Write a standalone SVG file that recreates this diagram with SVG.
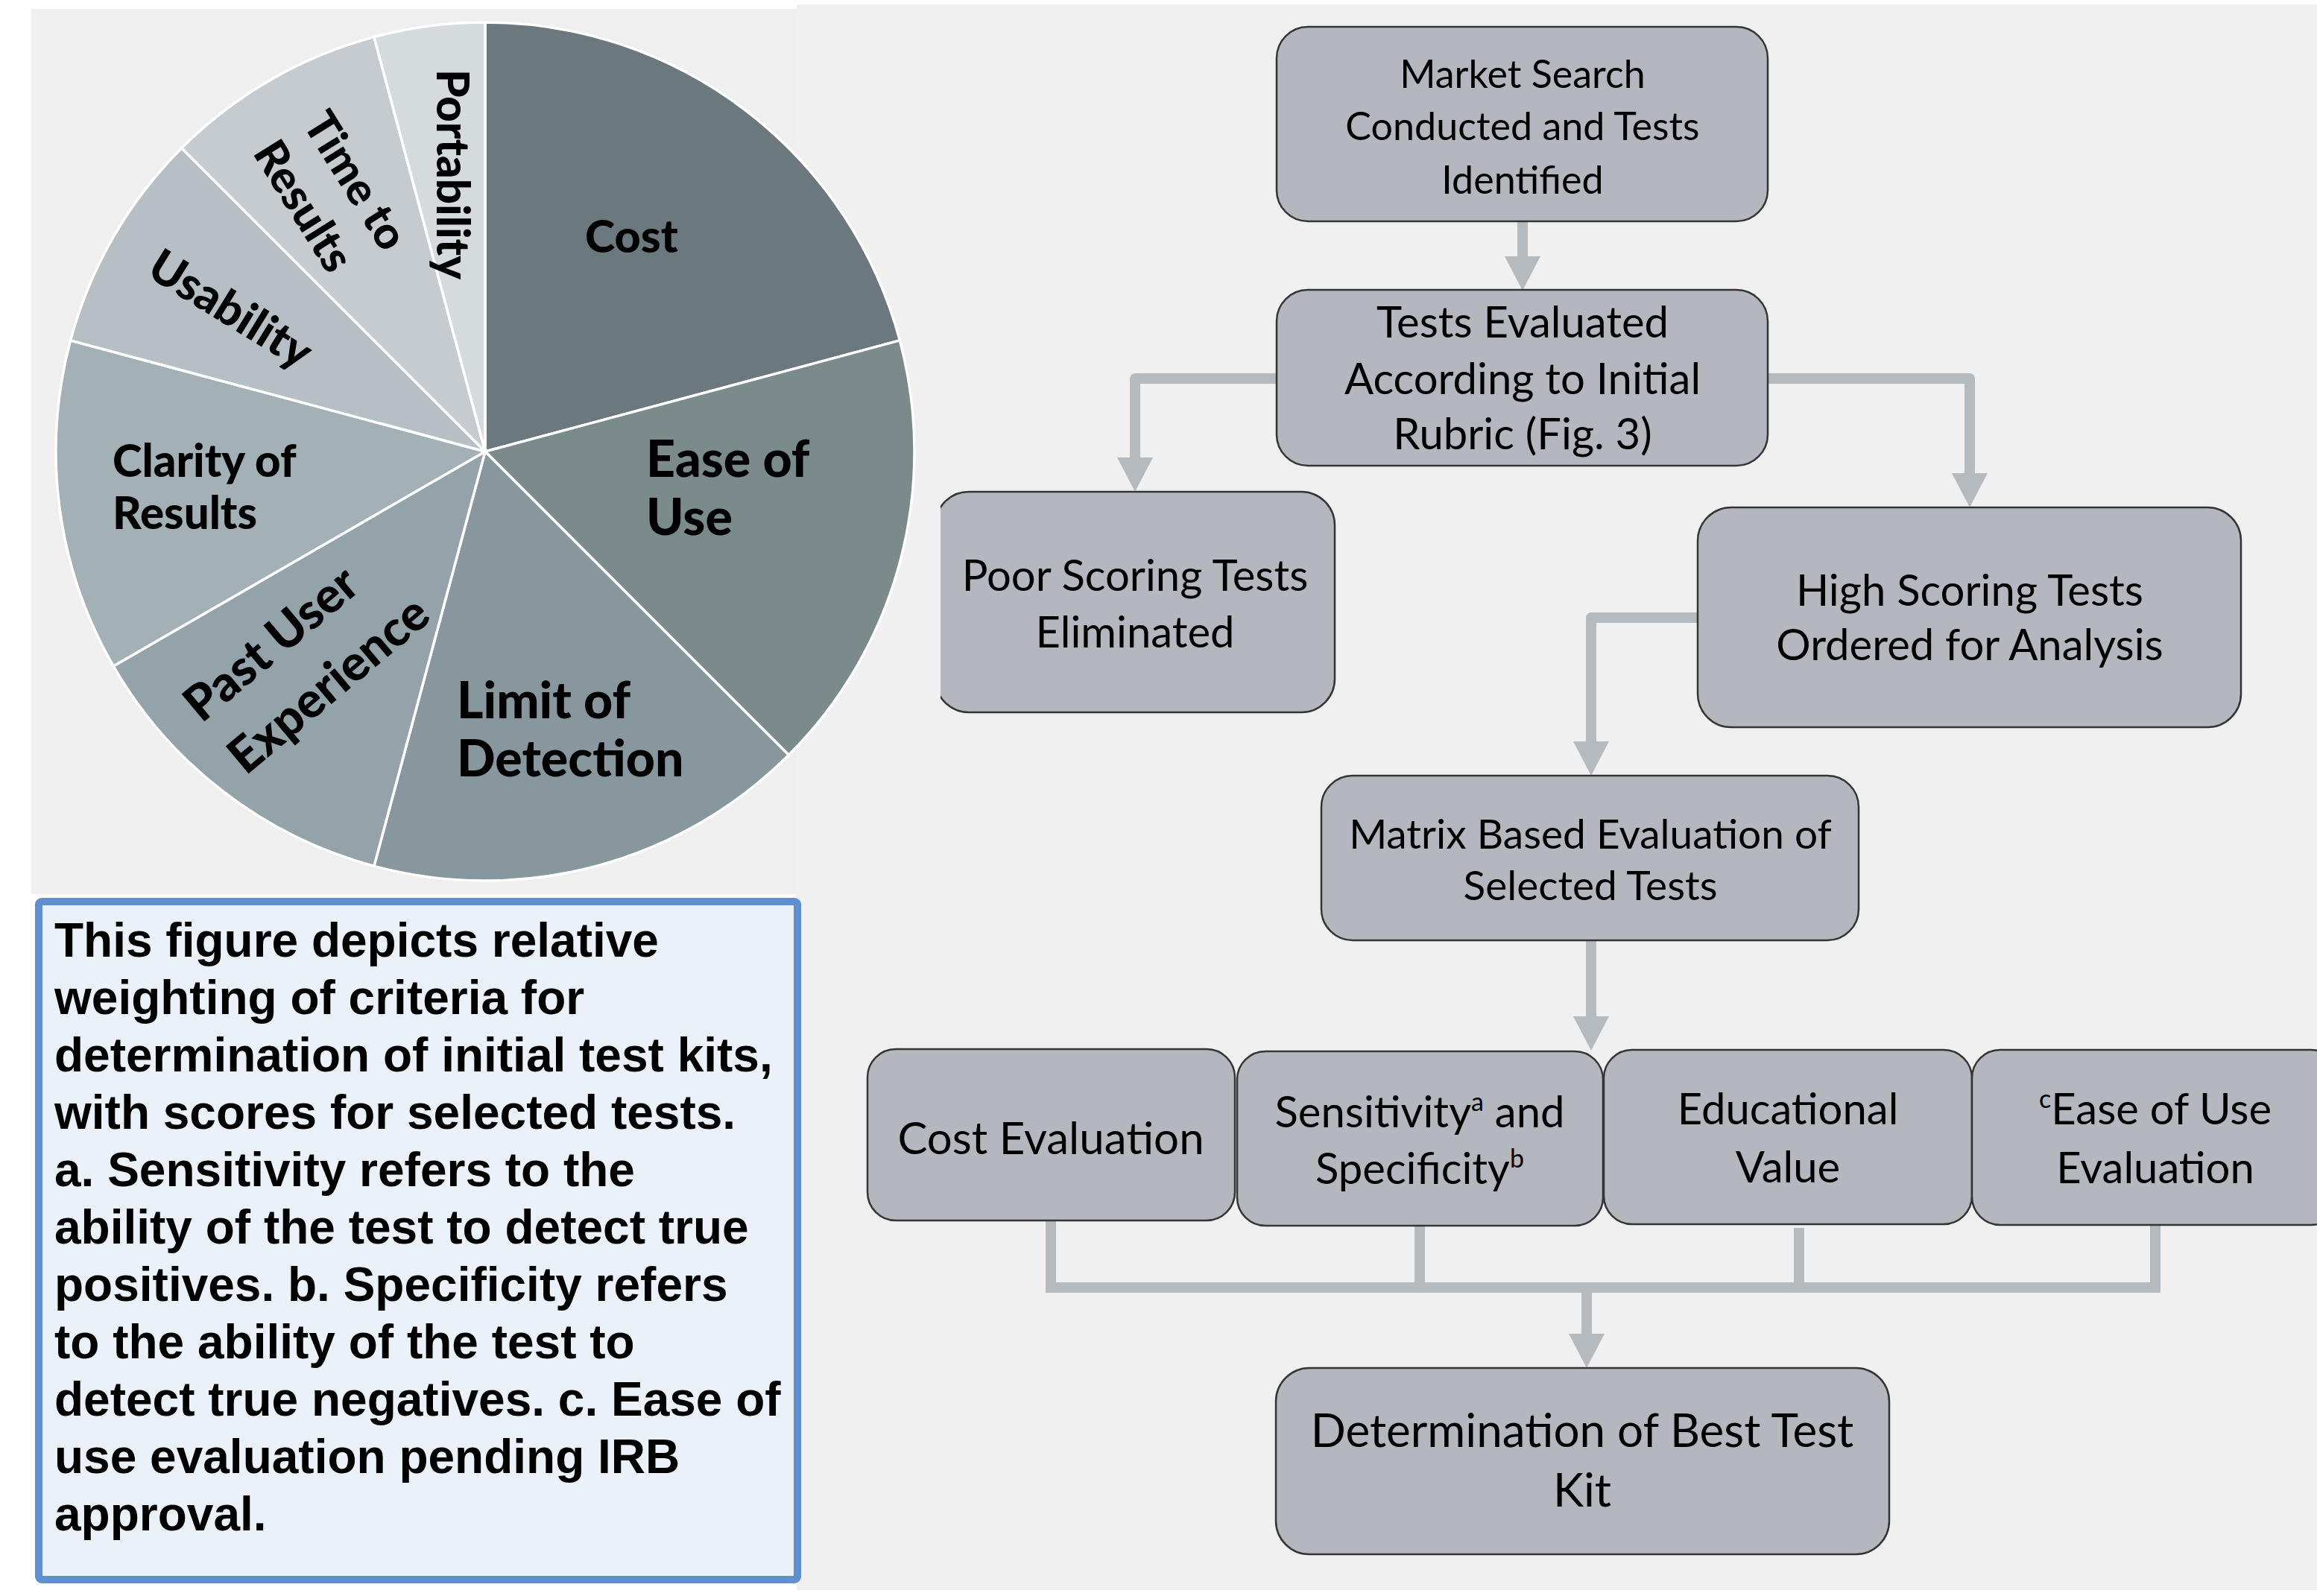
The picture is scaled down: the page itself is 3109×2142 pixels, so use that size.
<svg xmlns="http://www.w3.org/2000/svg" width="3109" height="2142" viewBox="0 0 3109 2142">
<style>
.slice{stroke:#ffffff;stroke-width:3.5}
.pl{font-family:Lato,"Open Sans","DejaVu Sans",sans-serif;font-weight:900;fill:#000}
.box{fill:#b4b8be;stroke:#353535;stroke-width:2.5}
.ft{font-family:Lato,"Open Sans","DejaVu Sans",sans-serif;font-size:58px;fill:#000;text-anchor:middle}
.conn{fill:none;stroke:#b5babf;stroke-width:14;stroke-linejoin:round}
.cap{font-family:"Liberation Sans",Arial,sans-serif;font-weight:bold;font-size:64px;fill:#000}
.sup{font-size:34px}
</style>
<defs>
<marker id="ah" markerUnits="userSpaceOnUse" viewBox="0 0 46 48" markerWidth="46" markerHeight="48" refX="0" refY="24" orient="auto">
<path d="M0,0 L46,24 L0,48 Z" fill="#b5babf"/>
</marker>
<clipPath id="clipPoor"><rect x="1262" y="600" width="600" height="400"/></clipPath>
</defs>
<rect x="0" y="0" width="3109" height="2142" fill="#ffffff"/>
<rect x="42" y="12" width="1027" height="1188" fill="#efefef"/>
<rect x="1069" y="6" width="2040" height="2128" fill="#f0f0f0"/>

<g id="pie">
<g id="slice-cost"><path class="slice" fill="#6b787d" d="M651,606 L651,30 A576,576 0 0 1 1207.4,456.9 Z"/><text class="pl" x="785" y="339" font-size="61">Cost</text></g>
<g id="slice-ease"><path class="slice" fill="#7b8b8c" d="M651,606 L1207.4,456.9 A576,576 0 0 1 1058.3,1013.3 Z"/><text class="pl" font-size="68"><tspan x="867" y="640">Ease of</tspan><tspan x="867" y="718">Use</tspan></text></g>
<g id="slice-limit"><path class="slice" fill="#88969e" d="M651,606 L1058.3,1013.3 A576,576 0 0 1 501.9,1162.4 Z"/><text class="pl" font-size="68"><tspan x="613" y="964">Limit of</tspan><tspan x="613" y="1042">Detection</tspan></text></g>
<g id="slice-past"><path class="slice" fill="#94a3a9" d="M651,606 L501.9,1162.4 A576,576 0 0 1 152.2,894 Z"/><text class="pl" font-size="66" text-anchor="middle" transform="translate(363,863) rotate(-40)" dy="0.36em">Past User</text><text class="pl" font-size="66" text-anchor="middle" transform="translate(440,918) rotate(-40)" dy="0.36em">Experience</text></g>
<g id="slice-clarity"><path class="slice" fill="#a3b0b6" d="M651,606 L152.2,894 A576,576 0 0 1 94.6,456.9 Z"/><text class="pl" font-size="60"><tspan x="151" y="640">Clarity of</tspan><tspan x="151" y="710">Results</tspan></text></g>
<g id="slice-usability"><path class="slice" fill="#b6c0c4" d="M651,606 L94.6,456.9 A576,576 0 0 1 243.7,198.7 Z"/><text class="pl" font-size="62" text-anchor="middle" transform="translate(310,414) rotate(31.6)" dy="0.36em">Usability</text></g>
<g id="slice-time"><path class="slice" fill="#c5cbcf" d="M651,606 L243.7,198.7 A576,576 0 0 1 501.9,49.6 Z"/><text class="pl" font-size="60" text-anchor="middle" transform="translate(478,242) rotate(58)" dy="0.36em">Time to</text><text class="pl" font-size="60" text-anchor="middle" transform="translate(408,276) rotate(58)" dy="0.36em">Results</text></g>
<g id="slice-portability"><path class="slice" fill="#d5dadd" d="M651,606 L501.9,49.6 A576,576 0 0 1 651,30 Z"/><text class="pl" font-size="60" text-anchor="middle" transform="translate(608,234) rotate(90)" dy="0.36em">Portability</text></g>
</g>

<g id="caption">
<rect x="52" y="1210" width="1018" height="910" rx="4" fill="#eaf1f9" stroke="#5f8fcf" stroke-width="10"/>
<text class="cap">
<tspan x="73" y="1284">This figure depicts relative</tspan>
<tspan x="73" y="1361">weighting of criteria for</tspan>
<tspan x="73" y="1438">determination of initial test kits,</tspan>
<tspan x="73" y="1515">with scores for selected tests.</tspan>
<tspan x="73" y="1592">a. Sensitivity refers to the</tspan>
<tspan x="73" y="1669">ability of the test to detect true</tspan>
<tspan x="73" y="1746">positives. b. Specificity refers</tspan>
<tspan x="73" y="1823">to the ability of the test to</tspan>
<tspan x="73" y="1900">detect true negatives. c. Ease of</tspan>
<tspan x="73" y="1977">use evaluation pending IRB</tspan>
<tspan x="73" y="2054">approval.</tspan>
</text>
</g>

<g id="connectors">
<path class="conn" d="M2043,297 V344" marker-end="url(#ah)"/>
<path class="conn" d="M1712,508 H1523 V614" marker-end="url(#ah)"/>
<path class="conn" d="M2372,508 H2643 V635" marker-end="url(#ah)"/>
<path class="conn" d="M2278,829 H2135 V995" marker-end="url(#ah)"/>
<path class="conn" d="M2135,1262 V1364" marker-end="url(#ah)"/>
<path class="conn" style="stroke-linejoin:miter" d="M1410,1638 V1728 H2892 V1644"/>
<path class="conn" d="M1905,1645 V1728"/>
<path class="conn" d="M2414,1648 V1728"/>
<path class="conn" d="M2129,1728 V1790" marker-end="url(#ah)"/>
</g>

<g id="node-market"><rect class="box" x="1713" y="36" width="659" height="261" rx="42"/><text class="ft" style="font-size:52px"><tspan x="2043" y="118">Market Search</tspan><tspan x="2043" y="188">Conducted and Tests</tspan><tspan x="2043" y="260">Identified</tspan></text></g>
<g id="node-tests"><rect class="box" x="1713" y="389" width="659" height="236" rx="42"/><text class="ft"><tspan x="2043" y="453">Tests Evaluated</tspan><tspan x="2043" y="529">According to Initial</tspan><tspan x="2043" y="603">Rubric (Fig. 3)</tspan></text></g>
<g id="node-poor"><rect class="box" x="1255" y="660" width="536" height="296" rx="45" clip-path="url(#clipPoor)"/><text class="ft"><tspan x="1523" y="793">Poor Scoring Tests</tspan><tspan x="1523" y="869">Eliminated</tspan></text></g>
<g id="node-high"><rect class="box" x="2278" y="681" width="729" height="295" rx="45"/><text class="ft"><tspan x="2643" y="813">High Scoring Tests</tspan><tspan x="2643" y="886">Ordered for Analysis</tspan></text></g>
<g id="node-matrix"><rect class="box" x="1773" y="1041" width="721" height="221" rx="42"/><text class="ft" style="font-size:55px"><tspan x="2134" y="1139">Matrix Based Evaluation of</tspan><tspan x="2134" y="1208">Selected Tests</tspan></text></g>
<g id="node-cost"><rect class="box" x="1164" y="1408" width="493" height="230" rx="38"/><text class="ft" style="font-size:60px" x="1410" y="1549">Cost Evaluation</text></g>
<g id="node-sens"><rect class="box" x="1660" y="1411" width="491" height="234" rx="38"/><text class="ft"><tspan x="1905" y="1513">Sensitivity<tspan class="sup" dy="-22">a</tspan><tspan dy="22"> and</tspan></tspan><tspan x="1905" y="1589">Specificity<tspan class="sup" dy="-22">b</tspan></tspan></text></g>
<g id="node-edu"><rect class="box" x="2152" y="1409" width="494" height="234" rx="38"/><text class="ft"><tspan x="2399" y="1509">Educational</tspan><tspan x="2399" y="1587">Value</tspan></text></g>
<g id="node-easeeval"><rect class="box" x="2646" y="1409" width="493" height="235" rx="38"/><text class="ft"><tspan x="2892" y="1509"><tspan class="sup" dy="-22">c</tspan><tspan dy="22">Ease of Use</tspan></tspan><tspan x="2892" y="1588">Evaluation</tspan></text></g>
<g id="node-best"><rect class="box" x="1712" y="1836" width="823" height="250" rx="45"/><text class="ft" style="font-size:62px"><tspan x="2123" y="1942">Determination of Best Test</tspan><tspan x="2123" y="2022">Kit</tspan></text></g>
</svg>
